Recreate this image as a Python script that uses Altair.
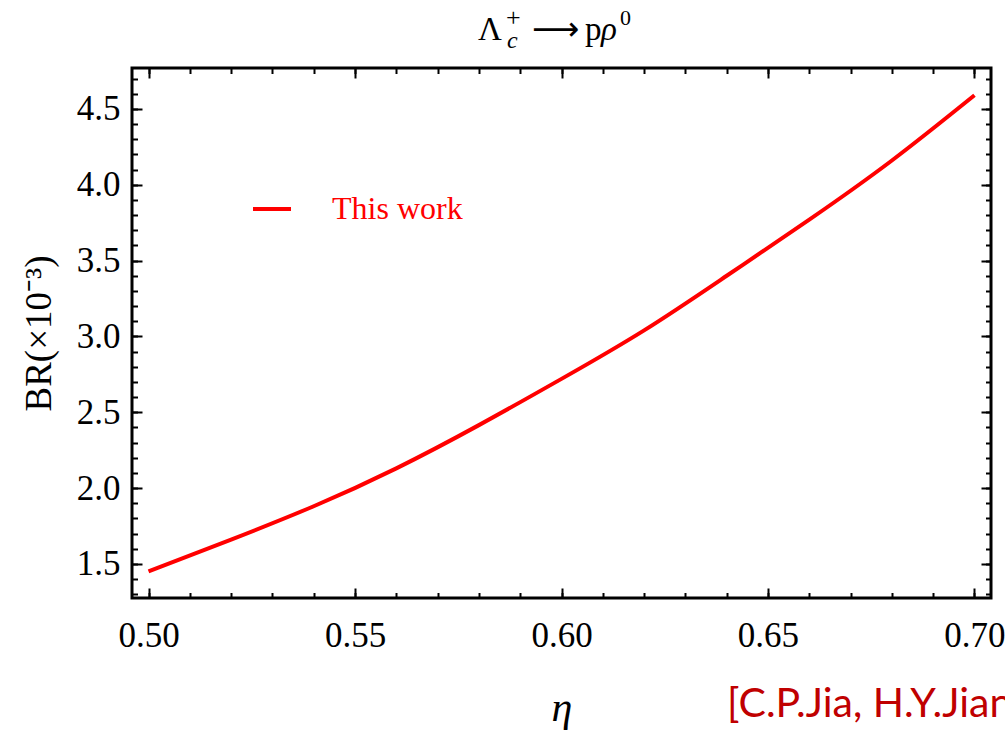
import altair as alt
import pandas as pd

# ---- data ----
eta = [0.50, 0.52, 0.54, 0.56, 0.58, 0.60, 0.62, 0.64, 0.66, 0.68, 0.70]
br = [1.45, 1.66, 1.88, 2.13, 2.415, 2.72, 3.04, 3.40, 3.77, 4.16, 4.59]
series = ["This work"] * len(eta)

x_major = [0.50, 0.55, 0.60, 0.65, 0.70]
x_minor = [0.50, 0.51, 0.52, 0.53, 0.54, 0.55, 0.56, 0.57, 0.58, 0.59, 0.60,
           0.61, 0.62, 0.63, 0.64, 0.65, 0.66, 0.67, 0.68, 0.69, 0.70]
y_major = [1.5, 2.0, 2.5, 3.0, 3.5, 4.0, 4.5]
y_minor = [1.3, 1.4, 1.5, 1.6, 1.7, 1.8, 1.9, 2.0, 2.1, 2.2, 2.3, 2.4, 2.5,
           2.6, 2.7, 2.8, 2.9, 3.0, 3.1, 3.2, 3.3, 3.4, 3.5, 3.6, 3.7, 3.8,
           3.9, 4.0, 4.1, 4.2, 4.3, 4.4, 4.5, 4.6, 4.7]

title_parts = ["\u039b", "+", "c", "\u27f6", "p", "\u03c1", "0"]
citation = ["[C.P.Jia, H.Y.Jiang"]

df = pd.DataFrame({"eta": eta, "br": br, "series": series})

SERIF = "Liberation Serif"
X_DOMAIN = [0.496, 0.704]
Y_DOMAIN = [1.275, 4.77]


def xs():
    return alt.Scale(domain=X_DOMAIN, nice=False, zero=False)


def ys():
    return alt.Scale(domain=Y_DOMAIN, nice=False, zero=False)


def tick_axis(orient, values, size):
    return alt.Axis(orient=orient, values=values, tickSize=size, offset=-size,
                    domain=False, grid=False, labels=False, ticks=True,
                    tickColor="black", tickWidth=2, title=None)


main = alt.Chart(df).mark_line(strokeWidth=4, interpolate="natural").encode(
    x=alt.X("eta:Q", scale=xs(), axis=alt.Axis(
        orient="bottom", values=x_major, tickSize=10, offset=-10, domain=False,
        grid=False, tickColor="black", tickWidth=2, format=".2f",
        labelFont=SERIF, labelFontSize=35, labelColor="black", labelPadding=20,
        labelFlush=False, labelOverlap=False,
        title="\u03b7", titleFont=SERIF, titleFontSize=42, titleFontStyle="italic",
        titleFontWeight="normal", titleColor="black", titlePadding=34)),
    y=alt.Y("br:Q", scale=ys(), axis=alt.Axis(
        orient="left", values=y_major, tickSize=10, offset=-10, domain=False,
        grid=False, tickColor="black", tickWidth=2, format=".1f",
        labelFont=SERIF, labelFontSize=35, labelColor="black", labelPadding=12,
        labelFlush=False, labelOverlap=False,
        title="BR(\u00d710\u207b\u00b3)", titleFont=SERIF, titleFontSize=37,
        titleFontWeight="normal", titleColor="black", titlePadding=18)),
    color=alt.Color("series:N", scale=alt.Scale(range=["#ff0000"]), legend=alt.Legend(
        orient="none", legendX=119, legendY=120, title=None, symbolType="stroke",
        symbolSize=1444, symbolStrokeWidth=4, labelFont=SERIF, labelFontSize=32,
        labelColor="#ff0000", labelOffset=39, padding=0)),
)

ghost = alt.Chart(df).mark_line(strokeOpacity=0)

minor_bl = ghost.encode(
    x=alt.X("eta:Q", scale=xs(), axis=tick_axis("bottom", x_minor, 5.5)),
    y=alt.Y("br:Q", scale=ys(), axis=tick_axis("left", y_minor, 5.5)),
)
major_tr = ghost.encode(
    x=alt.X("eta:Q", scale=xs(), axis=tick_axis("top", x_major, 10)),
    y=alt.Y("br:Q", scale=ys(), axis=tick_axis("right", y_major, 10)),
)
minor_tr = ghost.encode(
    x=alt.X("eta:Q", scale=xs(), axis=tick_axis("top", x_minor, 5.5)),
    y=alt.Y("br:Q", scale=ys(), axis=tick_axis("right", y_minor, 5.5)),
)


def piece(i, x, y, size, font=SERIF, style="normal"):
    return alt.Chart(pd.DataFrame({"t": [title_parts[i]]})).mark_text(
        align="left", baseline="alphabetic", font=font, fontSize=size,
        fontStyle=style, color="black"
    ).encode(text="t:N", x=alt.value(x), y=alt.value(y))


pieces = [
    piece(0, 346, -28, 33),
    piece(1, 374, -42, 26),
    piece(2, 375, -20, 24, style="italic"),
    piece(3, 400, -28, 33, font="DejaVu Sans"),
    piece(4, 453, -28, 33),
    piece(5, 469, -28, 33, style="italic"),
    piece(6, 488, -43, 22),
]

cite = alt.Chart(pd.DataFrame({"t": citation})).mark_text(
    align="left", baseline="alphabetic", font="Lato", fontSize=41, color="#c00000"
).encode(text="t:N", x=alt.value(595), y=alt.value(649))

chart = alt.layer(main, minor_bl, major_tr, minor_tr, *pieces, cite).resolve_scale(
    x="independent", y="independent"
).resolve_axis(
    x="independent", y="independent"
).properties(
    width=859, height=530,
    autosize=alt.AutoSizeParams(type="none"),
    padding={"left": 132, "top": 68, "right": 14, "bottom": 132},
    background="white",
).configure_view(stroke="black", strokeWidth=3)

chart.save("out.html", embed_options={"renderer": "svg", "actions": False})
